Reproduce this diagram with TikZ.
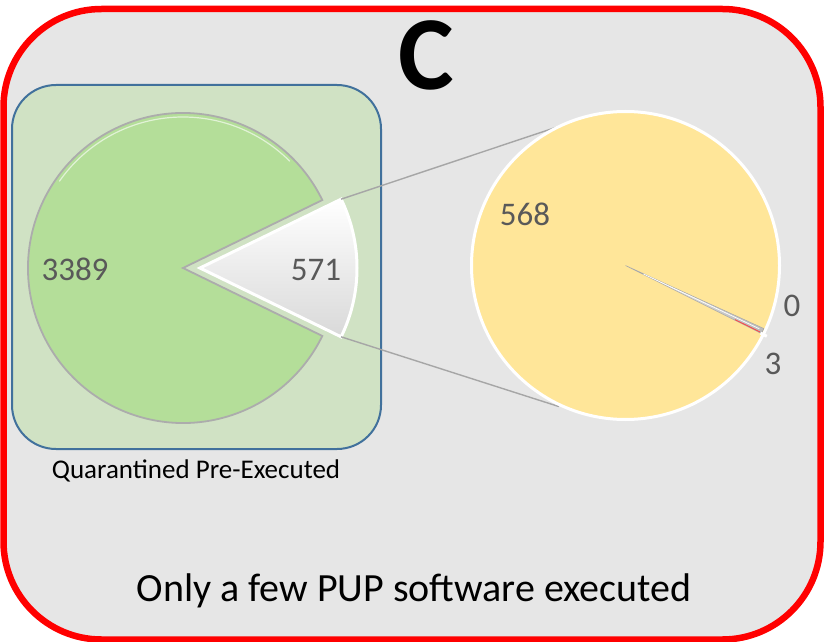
\documentclass[tikz,border=0pt]{standalone}
\usepackage{fontspec}
\setmainfont{Carlito}
\definecolor{panelgray}{HTML}{E6E6E6}
\definecolor{boxgreen}{HTML}{D0E2C4}
\definecolor{boxblue}{HTML}{41719C}
\definecolor{piegreen}{HTML}{B4DE99}
\definecolor{pieyellow}{HTML}{FFE699}
\definecolor{numgray}{HTML}{595959}
\definecolor{linegray}{HTML}{A6A6A6}
\tikzset{
  numlabel/.style={text=numgray, font=\fontsize{33}{38}\selectfont, anchor=base, inner sep=0pt},
  connline/.style={draw=linegray, line width=1.4pt},
}
\begin{document}
\begin{tikzpicture}[x=1pt,y=1pt]
\useasboundingbox (0,0) rectangle (824,641);
\fill[white] (0,0) rectangle (824,641);
% outer panel
\draw[fill=panelgray, draw=red, line width=6.5pt, rounded corners=98pt] (3.5,1.5) rectangle (820.5,632);
% green box
\draw[fill=boxgreen, draw=boxblue, line width=2pt, rounded corners=44pt] (12,192) rectangle (381,556);
% key points
\coordinate (G) at (183,373);
\coordinate (W) at (200,373);
\coordinate (Y) at (625.5,375.5);
% green pie
\draw[fill=piegreen, draw=gray!65, line width=1.8pt]
  (G) -- ++(26:155) arc[start angle=26, end angle=334, radius=155] -- cycle;
\draw[white!60!piegreen, line width=1.2pt]
  (G) ++(45:151) arc[start angle=45, end angle=145, radius=151];
% exploded white slice
\shadedraw[top color=white, bottom color=gray!30, draw=white, line width=3pt]
  (W) -- ++(26:157) coordinate (wt) arc[start angle=26, end angle=-26, radius=157] coordinate (wb) -- cycle;
% connector end points on the yellow pie
\path (Y) ++(116.3:154.5) coordinate (yt);
\path (Y) ++(-115.3:156) coordinate (yb);
\draw[connline] (wt) -- (yt);
\draw[connline] (wb) -- (yb);
% yellow pie
\draw[fill=pieyellow, draw=white, line width=3pt] (Y) circle[radius=154];
% thin slice (3)
\path (Y) ++(-26.6:152) coordinate (n1);
\shadedraw[top color=gray!15, bottom color=gray!55, draw=gray!70, line width=0.5pt]
  (Y) -- (n1) arc[start angle=-26.6, end angle=-24.5, radius=152] -- cycle;
\path (Y) ++(-25.3:20) coordinate (h1);
\path (Y) ++(-25.3:148) coordinate (h2);
\draw[white, line width=0.7pt] (h1) -- (h2);
\path (Y) ++(-26.3:122) coordinate (r1);
\path (Y) ++(-26.3:150) coordinate (r2);
\draw[red!75, line width=0.8pt] (r1) -- (r2);
\path (Y) ++(-26.6:151) coordinate (t1);
\path (Y) ++(-26.6:158) coordinate (t2);
\draw[white, line width=3pt] (t1) -- (t2);
% labels
\node[numlabel] (n3389) at (75,361) {3389};
\node[numlabel] (n571) at (316,361) {571};
\node[numlabel] (n568) at (525,416) {568};
\node[numlabel] (n0) at (792,325) {0};
\node[numlabel] (n3) at (773,267) {3};
\node[anchor=base, inner sep=0pt, font=\fontsize{27}{31}\selectfont] (qpe) at (196,163) {Quarantined Pre-Executed};
\node[anchor=base, inner sep=0pt, font=\fontsize{40}{46}\selectfont] (cap) at (414,40) {Only a few PUP software executed};
\node[anchor=base, inner sep=0pt, font=\bfseries\fontsize{105}{112}\selectfont] (C) at (426,551) {C};
\end{tikzpicture}
\end{document}
